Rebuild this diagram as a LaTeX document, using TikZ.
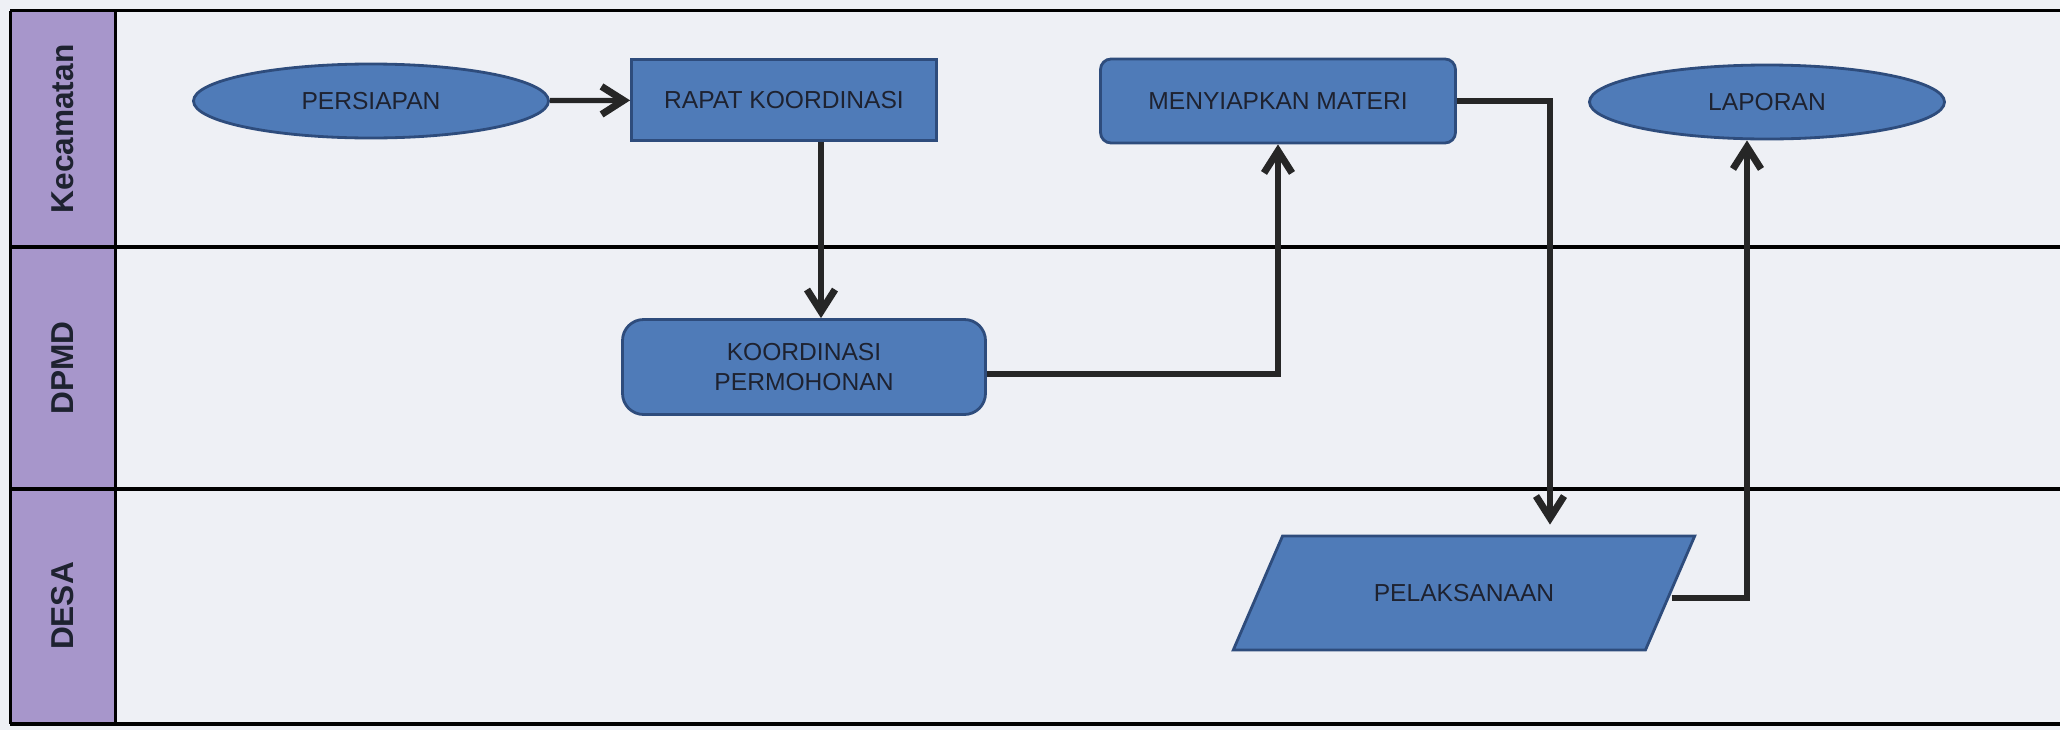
\documentclass[tikz,border=0pt]{standalone}
\usepackage{fontspec}
\setmainfont{Liberation Sans}
\usetikzlibrary{shapes.geometric,arrows.meta}
\definecolor{lanebg}{HTML}{EEF0F5}
\definecolor{lblbg}{HTML}{A796CB}
\definecolor{boxfill}{HTML}{4F7BB8}
\definecolor{boxline}{HTML}{2E4C7C}
\definecolor{txt}{HTML}{1E2230}
\begin{document}
\begin{tikzpicture}[itm/.style={draw=boxline,fill=boxfill,line width=0.8pt,text=txt,font=\fontsize{7}{8.5}\selectfont,align=center,inner sep=2pt},
box/.style={itm,rectangle,minimum width=3.05cm,minimum height=0.81cm},
oval/.style={itm,ellipse,minimum width=3.55cm,minimum height=0.74cm},
lane/.style={rotate=90,font=\bfseries\fontsize{9}{10}\selectfont,text=txt},
flow/.style={line width=1.5pt,draw=black!85,-{Straight Barb[length=2.2mm,width=2.8mm,line width=2pt]}}]
\useasboundingbox[fill=lanebg] (0,0) rectangle (20.6,-7.3);
\fill[lblbg] (0.105,-0.105) rectangle (1.156,-7.24);
\draw[line width=1pt] (0.105,-0.105) -- (20.6,-0.105);
\draw[line width=1pt] (0.105,-2.47) -- (20.6,-2.47);
\draw[line width=1pt] (0.105,-4.89) -- (20.6,-4.89);
\draw[line width=1pt] (0.105,-7.24) -- (20.6,-7.24);
\draw[line width=1pt] (0.105,-0.105) -- (0.105,-7.24);
\draw[line width=1pt] (1.156,-0.105) -- (1.156,-7.24);
\node[lane] (Kc) at (0.63,-1.29) {Kecamatan};
\node[lane] (Dp) at (0.63,-3.68) {DPMD};
\node[lane] (Ds) at (0.63,-6.06) {DESA};
\node[oval] (P) at (3.71,-1.01) {PERSIAPAN};
\node[box] (R) at (7.84,-1.00) {RAPAT KOORDINASI};
\node[box,rounded corners=6pt,minimum width=3.63cm,minimum height=0.95cm] (K) at (8.04,-3.67) {KOORDINASI\\PERMOHONAN};
\node[box,rounded corners=3pt,minimum width=3.55cm,minimum height=0.84cm] (M) at (12.78,-1.01) {MENYIAPKAN MATERI};
\node[oval] (L) at (17.67,-1.02) {LAPORAN};
\node[itm,trapezium,trapezium left angle=50,trapezium right angle=130,trapezium stretches=true,minimum width=4.62cm,minimum height=1.14cm] (Pl) at (14.64,-5.93) {PELAKSANAAN};
\draw[flow] (P) -- (R);
\draw[flow] ([xshift=0.37cm]R.south) -- ([xshift=0.17cm]K.north);
\draw[flow] ([yshift=-0.07cm]K.east) -| (M.south);
\draw[flow] (M.east) -| ([xshift=0.86cm,yshift=0.1cm]Pl.north);
\draw[flow] ([yshift=-0.05cm]Pl.east) -| ([xshift=-0.2cm]L.south);
\end{tikzpicture}
\end{document}
